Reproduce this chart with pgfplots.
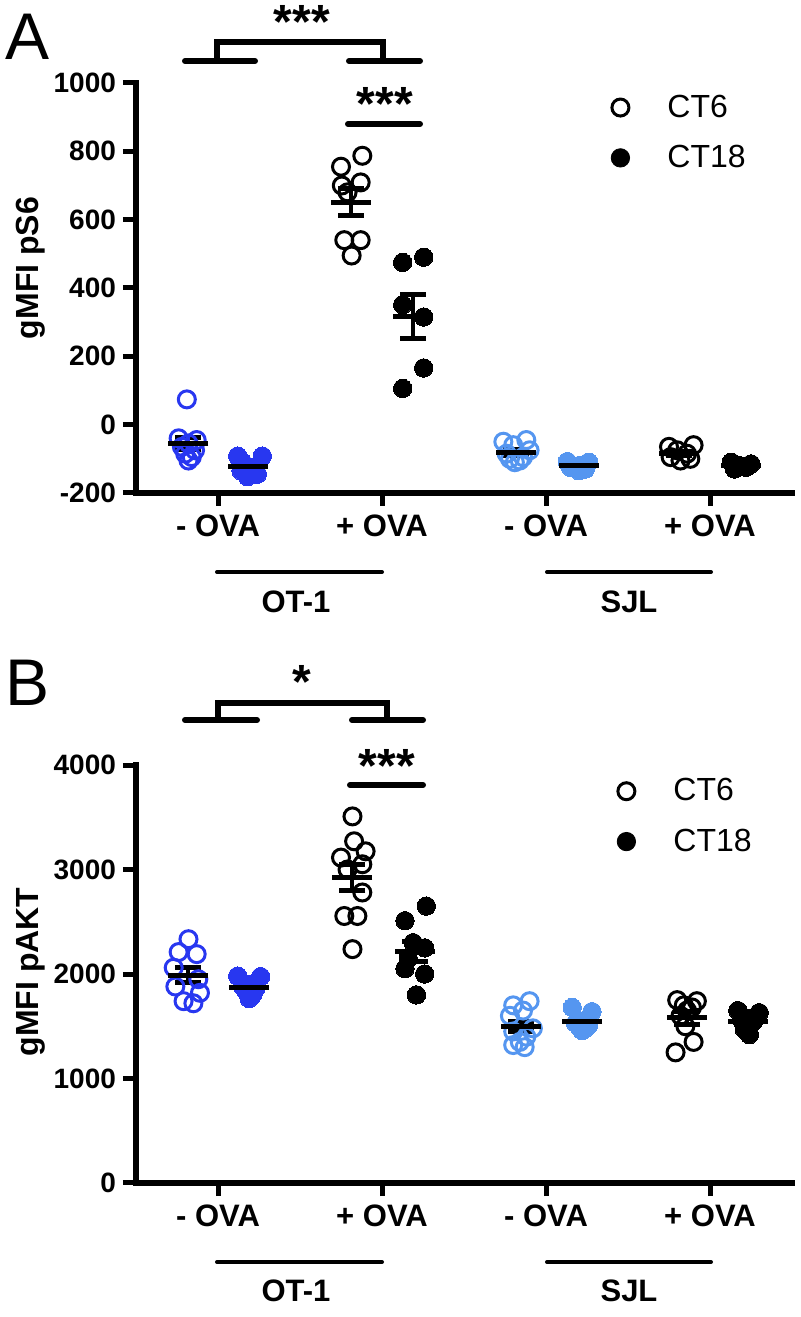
\documentclass[border=0pt]{standalone}
\usepackage{pgfplots}
\pgfplotsset{compat=1.18}
\usepackage{fontspec}
\setmainfont{Liberation Sans}
\definecolor{dblue}{RGB}{40,55,240}
\definecolor{lblue}{RGB}{85,150,240}
\pgfplotsset{
 gp/.style={
  scale only axis, width=328pt,
  xmin=-0.5, xmax=3.5,
  axis x line=bottom, axis y line=left,
  axis line style={-, line width=3pt, line cap=rect},
  tick align=outside, major tick length=6.5pt,
  tick style={line width=2.5pt, black},
  xtick={0,1,2,3}, xticklabels={- OVA,+ OVA,- OVA,+ OVA},
  tick label style={font=\bfseries\fontsize{14}{16}\selectfont},
  xticklabel style={yshift=-1pt, font=\bfseries\fontsize{15.5}{17}\selectfont},
  clip=false,
  legend cell align=left,
  legend image code/.code={\draw[##1] plot coordinates {(5pt,0pt)}; \path[draw=none, fill=none] (0pt,-6pt) rectangle (24pt,6pt);},
 },
 opn/.style={only marks, mark=o, mark size=4.25pt, mark options={solid, line width=1.5pt, draw=#1, fill=none}, forget plot},
 cls/.style={only marks, mark=*, mark size=4.6pt, mark options={solid, draw=#1, fill=#1, line width=0pt}, forget plot},
 msem/.style={only marks, mark=-, mark size=10pt, mark options={solid, line width=2.5pt, black}, forget plot,
   error bars/.cd, y dir=both, y explicit, error bar style={line width=2pt, black}, error mark options={rotate=90, mark size=6.5pt, line width=2.5pt, black}},
}
\begin{document}
\begin{tikzpicture}
% ---------------- Panel A ----------------
\begin{axis}[gp, at={(68pt,412pt)}, anchor=south west, height=205pt,
  ymin=-200, ymax=1000, ytick={-200,0,200,400,600,800,1000},
  yticklabels={-200,0,200,400,600,800,1000},
  legend style={at={(0.7226,0.972)}, anchor=north west, draw=none, fill=none, inner sep=0pt,
    row sep=12.5pt, column sep=4.5pt, nodes={inner sep=0pt}, font=\fontsize{16}{18}\selectfont}]
\addlegendimage{only marks, mark=o, mark size=4.25pt, mark options={line width=1.5pt, draw=black}}
\addlegendentry{CT6}
\addlegendimage{only marks, mark=*, mark size=4.6pt, mark options={draw=black, fill=black}}
\addlegendentry{CT18}
% OT-1 -OVA
\addplot[opn=dblue] coordinates {(-0.19,74) (-0.24,-40) (-0.13,-45) (-0.18,-55) (-0.22,-65) (-0.14,-75) (-0.20,-85) (-0.16,-95) (-0.18,-105)};
\addplot[cls=dblue] coordinates {(0.12,-92) (0.27,-92) (0.18,-152) (0.15,-110) (0.22,-125) (0.14,-135) (0.24,-145)};
% OT-1 +OVA
\addplot[opn=black] coordinates {(0.88,787) (0.75,755) (0.87,709) (0.755,700) (0.79,680) (0.77,540) (0.87,540) (0.815,495)};
\addplot[cls=black] coordinates {(1.126,475) (1.254,490) (1.126,351) (1.254,315) (1.254,166) (1.126,106)};
% SJL -OVA
\addplot[opn=lblue] coordinates {(1.74,-50) (1.88,-45) (1.80,-60) (1.90,-75) (1.76,-85) (1.86,-95) (1.78,-100) (1.84,-105) (1.81,-110)};
\addplot[cls=lblue] coordinates {(2.13,-108) (2.26,-110) (2.20,-120) (2.15,-125) (2.24,-130) (2.20,-135)};
% SJL +OVA
\addplot[opn=black] coordinates {(2.75,-65) (2.90,-60) (2.80,-75) (2.86,-85) (2.76,-95) (2.88,-100) (2.82,-105)};
\addplot[cls=black] coordinates {(3.13,-110) (3.25,-115) (3.18,-120) (3.22,-125) (3.15,-130)};
% mean +- SEM
\addplot[msem] coordinates {(-0.18,-55) +- (0,18) (0.18,-122) +- (0,11) (0.81,651) +- (0,39) (1.19,317) +- (0,64)
  (1.82,-81) +- (0,8) (2.20,-121) +- (0,4.4) (2.81,-84) +- (0,6.6) (3.19,-120) +- (0,3.5)};
\end{axis}
% ---------------- Panel B ----------------
\begin{axis}[gp, at={(68pt,67pt)}, anchor=south west, height=209pt,
  ymin=0, ymax=4000, ytick={0,1000,2000,3000,4000},
  yticklabels={0,1000,2000,3000,4000},
  legend style={at={(0.7317,0.9685)}, anchor=north west, draw=none, fill=none, inner sep=0pt,
    row sep=12.5pt, column sep=4.5pt, nodes={inner sep=0pt}, font=\fontsize{16}{18}\selectfont}]
\addlegendimage{only marks, mark=o, mark size=4.25pt, mark options={line width=1.5pt, draw=black}}
\addlegendentry{CT6}
\addlegendimage{only marks, mark=*, mark size=4.6pt, mark options={draw=black, fill=black}}
\addlegendentry{CT18}
% OT-1 -OVA
\addplot[opn=dblue] coordinates {(-0.18,2333) (-0.24,2210) (-0.13,2190) (-0.27,2060) (-0.12,1950) (-0.26,1880) (-0.11,1820) (-0.21,1740) (-0.15,1720)};
\addplot[cls=dblue] coordinates {(0.12,1980) (0.26,1975) (0.20,1900) (0.15,1880) (0.23,1860) (0.17,1840) (0.21,1800) (0.19,1765)};
% OT-1 +OVA
\addplot[opn=black] coordinates {(0.82,3508) (0.83,3270) (0.90,3174) (0.75,3114) (0.79,3000) (0.88,3050) (0.88,2780) (0.77,2555) (0.85,2555) (0.82,2238)};
\addplot[cls=black] coordinates {(1.27,2650) (1.14,2510) (1.19,2300) (1.26,2250) (1.16,2150) (1.14,2050) (1.26,2000) (1.21,1800)};
% SJL -OVA
\addplot[opn=lblue] coordinates {(1.90,1740) (1.80,1700) (1.86,1650) (1.78,1600) (1.92,1480) (1.80,1450) (1.88,1400) (1.84,1350) (1.80,1320) (1.87,1300)};
\addplot[cls=lblue] coordinates {(2.16,1680) (2.28,1640) (2.22,1550) (2.18,1530) (2.26,1510) (2.20,1500) (2.24,1480) (2.22,1460)};
% SJL +OVA
\addplot[opn=black] coordinates {(2.80,1750) (2.92,1740) (2.84,1700) (2.89,1680) (2.86,1650) (2.82,1600) (2.85,1500) (2.90,1350) (2.79,1250)};
\addplot[cls=black] coordinates {(3.17,1650) (3.30,1630) (3.22,1580) (3.27,1560) (3.20,1540) (3.25,1520) (3.23,1500) (3.21,1470) (3.24,1420)};
% mean +- SEM
\addplot[msem] coordinates {(-0.18,1989) +- (0,73) (0.19,1875) +- (0,28) (0.82,2924) +- (0,122) (1.20,2214) +- (0,98)
  (1.85,1499) +- (0,51) (2.22,1544) +- (0,27) (2.86,1580) +- (0,59) (3.23,1541) +- (0,24)};
\end{axis}
% ---------------- annotations (pixel frame) ----------------
\begin{scope}[x=0.5pt, y=-0.5pt, yshift=658.5pt, line cap=round]
 \node[font=\fontsize{33}{33}\selectfont] at (28,37) {A};
 \node[font=\fontsize{33}{33}\selectfont] at (28,683) {B};
 \node[rotate=90, font=\bfseries\fontsize{16}{18}\selectfont] at (31,268) {gMFI pS6};
 \node[rotate=90, font=\bfseries\fontsize{16}{18}\selectfont] at (31,972) {gMFI pAKT};
 % brackets A
 \draw[line width=3pt] (185,61) -- (255,61);
 \draw[line width=3pt] (349,61) -- (420,61);
 \draw[line width=3pt, line cap=butt] (217,62) -- (217,42) -- (383,42) -- (383,62);
 \draw[line width=3pt] (348,124) -- (420,124);
 \node[font=\bfseries\fontsize{24}{24}\selectfont] at (302,22) {***};
 \node[font=\bfseries\fontsize{24}{24}\selectfont] at (385,104) {***};
 % brackets B
 \draw[line width=3pt] (185,720) -- (257,720);
 \draw[line width=3pt] (352,720) -- (423,720);
 \draw[line width=3pt, line cap=butt] (218,721) -- (218,703) -- (387,703) -- (387,721);
 \draw[line width=3pt] (350,785) -- (423,785);
 \node[font=\bfseries\fontsize{24}{24}\selectfont] at (302,682) {*};
 \node[font=\bfseries\fontsize{24}{24}\selectfont] at (387,766) {***};
 % group lines
 \draw[line width=2pt] (217,572) -- (382,572);
 \draw[line width=2pt] (547,572) -- (711,572);
 \draw[line width=2pt] (217,1262) -- (382,1262);
 \draw[line width=2pt] (547,1262) -- (711,1262);
 \node[font=\bfseries\fontsize{15.5}{17}\selectfont] at (296,602) {OT-1};
 \node[font=\bfseries\fontsize{15.5}{17}\selectfont] at (629,602) {SJL};
 \node[font=\bfseries\fontsize{15.5}{17}\selectfont] at (296,1291) {OT-1};
 \node[font=\bfseries\fontsize{15.5}{17}\selectfont] at (629,1291) {SJL};
\end{scope}
\pgfresetboundingbox
\useasboundingbox (0,0) rectangle (400pt,658.5pt);
\end{tikzpicture}
\end{document}
